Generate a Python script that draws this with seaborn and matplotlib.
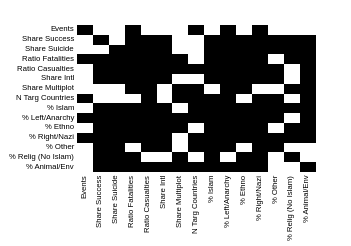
#Binary correlation matrix heatmap
import numpy as np
import pandas as pd
import matplotlib
matplotlib.use("Agg")
import matplotlib.pyplot as plt
import seaborn as sns
from matplotlib.colors import ListedColormap

#Variable names (rows and columns)
labels = ["Events", "Share Success", "Share Suicide", "Ratio Fatalities",
          "Ratio Casualties", "Share Intl", "Share Multiplot", "N Targ Countries",
          "% Islam", "% Left/Anarchy", "% Ethno", "% Right/Nazi", "% Other",
          "% Relig (No Islam)", "% Animal/Env"]

#1 = black cell, 0 = white cell
matrix = [
    [1, 0, 0, 1, 0, 0, 0, 1, 0, 1, 0, 1, 0, 0, 0],
    [0, 1, 0, 1, 1, 1, 0, 0, 1, 1, 1, 1, 1, 1, 1],
    [0, 0, 1, 1, 1, 1, 0, 0, 1, 1, 1, 1, 1, 1, 1],
    [1, 1, 1, 1, 1, 1, 1, 0, 1, 1, 1, 1, 0, 1, 1],
    [0, 1, 1, 1, 1, 1, 1, 1, 1, 1, 1, 1, 1, 0, 1],
    [0, 1, 1, 1, 1, 1, 0, 0, 1, 1, 1, 1, 1, 0, 1],
    [0, 0, 0, 1, 1, 0, 1, 1, 0, 1, 1, 0, 0, 1, 1],
    [1, 0, 0, 0, 1, 0, 1, 1, 1, 1, 0, 1, 1, 0, 1],
    [0, 1, 1, 1, 1, 1, 0, 1, 1, 1, 1, 1, 1, 1, 1],
    [1, 1, 1, 1, 1, 1, 1, 1, 1, 1, 1, 1, 1, 0, 1],
    [0, 1, 1, 1, 1, 1, 1, 0, 1, 1, 1, 1, 0, 1, 1],
    [1, 1, 1, 1, 1, 1, 0, 1, 1, 1, 1, 1, 1, 1, 1],
    [0, 1, 1, 0, 1, 1, 0, 1, 1, 1, 0, 1, 1, 0, 0],
    [0, 1, 1, 1, 0, 0, 1, 0, 1, 0, 1, 1, 0, 1, 0],
    [0, 1, 1, 1, 1, 1, 1, 1, 1, 1, 1, 1, 0, 0, 1],
]

df = pd.DataFrame(matrix, index=labels, columns=labels)

plt.rcParams['font.family'] = ['Liberation Sans', 'DejaVu Sans']

fig = plt.figure(figsize=(3.51, 2.46), dpi=100)
ax = fig.add_axes([0.219, 0.301, 0.681, 0.597])

sns.heatmap(df, ax=ax, cmap=ListedColormap(["white", "black"]), cbar=False,
            linewidths=0, vmin=0, vmax=1,
            xticklabels=True, yticklabels=True)

ax.tick_params(length=0, labelsize=5.6, pad=2)
plt.setp(ax.get_xticklabels(), rotation=90)
plt.setp(ax.get_yticklabels(), rotation=0)

fig.savefig("out.png", dpi=100)
